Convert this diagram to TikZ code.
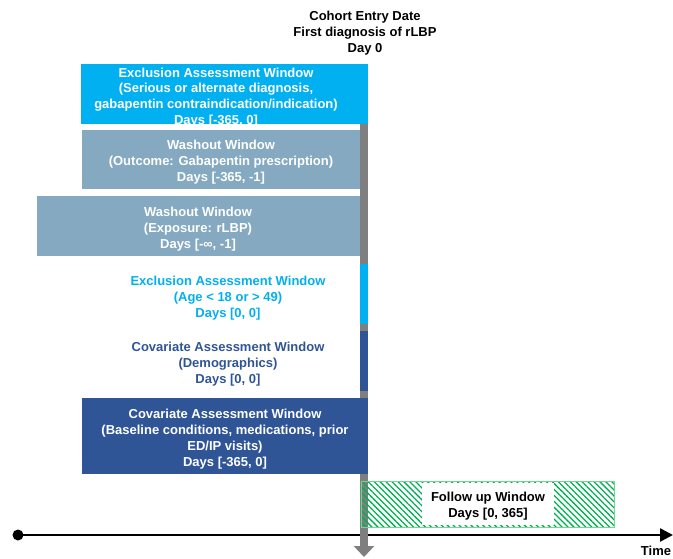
\documentclass[tikz,border=0pt]{standalone}
\usepackage{fontspec}
\setmainfont{Liberation Sans}
\usetikzlibrary{patterns.meta,arrows.meta}
\definecolor{cyanb}{HTML}{00B0F0}
\definecolor{greyb}{HTML}{84A9C0}
\definecolor{darkb}{HTML}{2F5597}
\definecolor{barg}{HTML}{7F7F7F}
\definecolor{hatchg}{HTML}{00B050}
\definecolor{edgeg}{HTML}{6FD88F}
\begin{document}
\begin{tikzpicture}[x=1bp,y=-1bp,
  txt/.style={font=\bfseries\fontsize{13bp}{15.9bp}\selectfont, align=center, inner sep=0pt},
  box/.style={anchor=north west, fill=#1, inner sep=0pt},
  wtxt/.style={txt, text=white},
]
\useasboundingbox (0,0) rectangle (673,559);
% gray vertical bar
\coordinate (bartop) at (364,124);
\coordinate (barbot) at (364,557);
\draw[barg, line width=8bp, -{Triangle[length=11bp,width=20bp]}] (bartop) -- (barbot);
% title
\node[txt] (title) at (365,33) {Cohort Entry Date\\First diagnosis of rLBP\\Day 0};
% boxes
\node[box=cyanb, minimum width=287bp, minimum height=60bp] (b1) at (81,64) {};
\node[wtxt] (b1t) at (216,97.5) {Exclusion Assessment Window\\(Serious or alternate diagnosis,\\gabapentin contraindication/indication)\\Days [-365, 0]};
\node[box=greyb, minimum width=278bp, minimum height=59bp] (b2) at (82,130) {};
\node[wtxt] (b2t) at (221,162) {Washout Window\\(Outcome: Gabapentin prescription)\\Days [-365, -1]};
\node[box=greyb, minimum width=323bp, minimum height=60bp] (b3) at (37,196) {};
\node[wtxt] (b3t) at (198,229) {Washout Window\\(Exposure: rLBP)\\Days [-∞, -1]};
% colored bar segments
\fill[cyanb] (360,264) rectangle (368,324);
\fill[darkb] (360,331) rectangle (368,391);
\node[txt, text=cyanb] (b4) at (228,298) {Exclusion Assessment Window\\(Age < 18 or > 49)\\Days [0, 0]};
\node[txt, text=darkb] (b5) at (228,364) {Covariate Assessment Window\\(Demographics)\\Days [0, 0]};
\node[box=darkb, minimum width=286bp, minimum height=76bp] (b6) at (82,398) {};
\node[wtxt] (b6t) at (225,439) {Covariate Assessment Window\\(Baseline conditions, medications, prior\\ED/IP visits)\\Days [-365, 0]};
% time axis
\node[circle, fill=black, inner sep=0pt, minimum size=11bp] (dot) at (18,535) {};
\coordinate (axend) at (673,535);
\draw[line width=2.6bp, -{Triangle[length=13bp,width=13bp]}] (dot.center) -- (axend);
\draw[barg, line width=8bp] (364,525) -- (364,545);
% follow up
\node[anchor=north west, draw=edgeg, line width=1bp, minimum width=253bp, minimum height=46bp, inner sep=0pt,
  pattern={Lines[angle=-45,distance=4.2bp,line width=1.3bp]}, pattern color=hatchg] (fu) at (361,481) {};
\node[fill=white, minimum width=132bp, minimum height=42bp, inner sep=0pt] (fuw) at (488,504) {};
\node[txt] (fut) at (488,506) {Follow up Window\\Days [0, 365]};
\node[txt] (time) at (656,551) {Time};
\end{tikzpicture}
\end{document}
